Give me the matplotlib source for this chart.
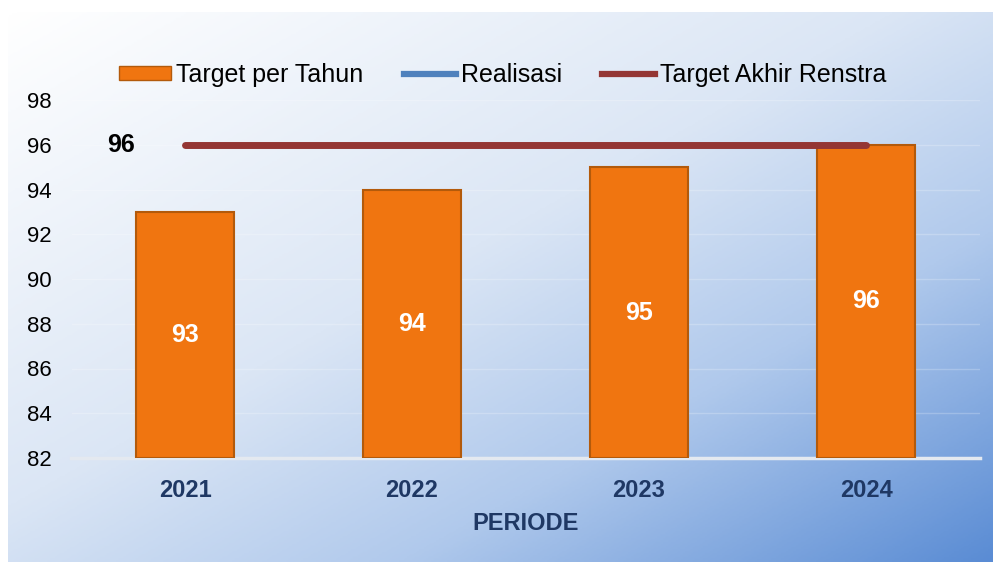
import numpy as np
import matplotlib.pyplot as plt
from matplotlib.colors import LinearSegmentedColormap
from matplotlib.patches import Patch
from matplotlib.lines import Line2D

plt.rcParams['font.family'] = ['Liberation Sans', 'DejaVu Sans']

years = ['2021', '2022', '2023', '2024']
target_tahun = [93, 94, 95, 96]
target_renstra = 96
yticks = [82, 84, 86, 88, 90, 92, 94, 96, 98]

orange = '#f07510'
red = '#943634'
blue = '#4f81bd'
navy = '#1f3864'

fig = plt.figure(figsize=(9.93, 5.62), dpi=100)

# background gradient panel
bg = fig.add_axes([8/993, 0, 985/993, 550/562], zorder=0)
cmap = LinearSegmentedColormap.from_list(
    'bg', [(0, '#ffffff'), (0.45, '#dbe6f5'), (0.7, '#b0c9ec'), (1, '#5a8cd4')])
u = np.linspace(0, 1, 400)
v = np.linspace(0, 1, 300)
U, V = np.meshgrid(u, v)
bg.imshow((U + V) / 2, cmap=cmap, aspect='auto', extent=[0, 1, 0, 1],
          origin='upper', vmin=0, vmax=1)
bg.axis('off')

ax = fig.add_axes([71.5/993, 1 - 458/562, 908/993, 358/562], zorder=1)
ax.patch.set_alpha(0)
x = np.arange(len(years))

ax.bar(x, np.array(target_tahun) - 82, bottom=82, width=0.43, color=orange,
       edgecolor='#b35a0b', linewidth=1.5, zorder=3)
for xi, val in zip(x, target_tahun):
    ax.text(xi, (82 + val) / 2, str(val), ha='center', va='center',
            color='white', fontsize=18, fontweight='bold', zorder=5)

ax.plot([x[0], x[-1]], [target_renstra, target_renstra], color=red, lw=5,
        solid_capstyle='round', zorder=4)
ax.annotate(str(target_renstra), (x[0], target_renstra), xytext=(-36, 0),
            textcoords='offset points', ha='right', va='center',
            fontsize=18, fontweight='bold', color='black')

ax.set_xlim(-0.5, len(years) - 0.5)
ax.set_ylim(82, 98)
ax.set_yticks(yticks)
ax.set_xticks(x)
ax.set_xticklabels(years, fontsize=17, fontweight='bold', color=navy)
ax.tick_params(axis='y', length=0, pad=14, labelsize=16)
ax.tick_params(axis='x', length=0, pad=15)
ax.grid(axis='y', color='white', alpha=0.22, lw=1)
ax.set_axisbelow(True)
for s in ['top', 'right', 'left']:
    ax.spines[s].set_visible(False)
ax.spines['bottom'].set_color('#e4e9f0')
ax.spines['bottom'].set_linewidth(2.5)
ax.set_xlabel('PERIODE', fontsize=17, fontweight='bold', color=navy, labelpad=7)

handles = [Patch(facecolor=orange, edgecolor='#b35a0b'),
           Line2D([], [], color=blue, lw=4.5),
           Line2D([], [], color=red, lw=4.5)]
fig.legend(handles, ['Target per Tahun', 'Realisasi', 'Target Akhir Renstra'],
           loc='center', bbox_to_anchor=(0.506, 1 - 75/562), ncol=3,
           frameon=False, fontsize=18, handlelength=2.1, handleheight=0.5,
           handletextpad=0.2, columnspacing=1.6)

fig.savefig('out.png', dpi=100)
